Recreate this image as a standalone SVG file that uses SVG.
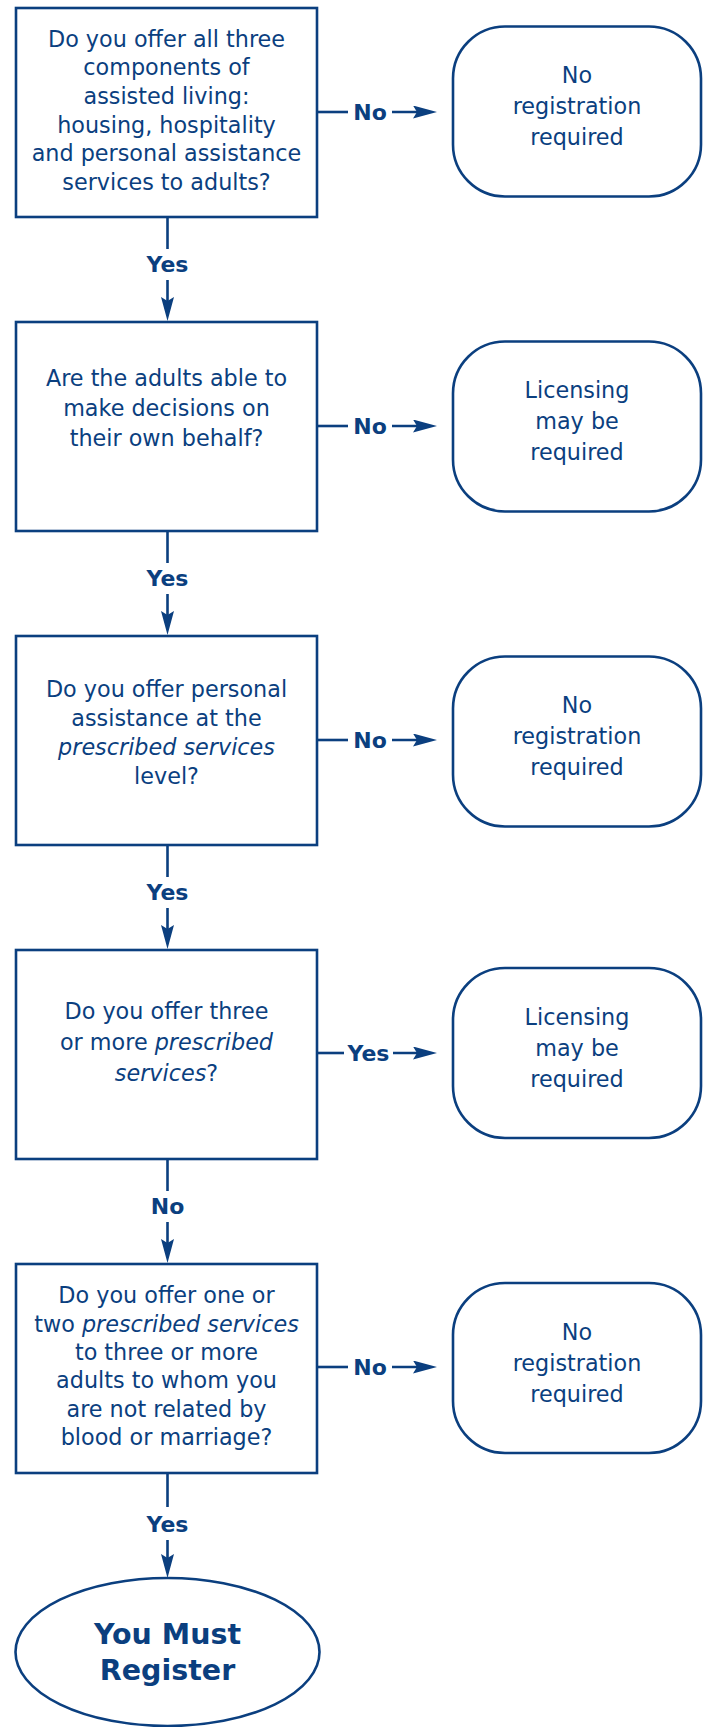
<svg xmlns="http://www.w3.org/2000/svg" width="705" height="1727" viewBox="0 0 705 1727">
<defs>
<style>
.box{fill:#fff;stroke:#0b3f7f;stroke-width:2.6}
.t{font-family:"DejaVu Sans","Open Sans","Liberation Sans",sans-serif;font-size:22.3px;fill:#0b3f7f;text-anchor:middle}
.lbl{font-family:"DejaVu Sans","Open Sans","Liberation Sans",sans-serif;font-size:22px;font-weight:bold;fill:#0b3f7f;text-anchor:middle}
.big{font-family:"DejaVu Sans","Open Sans","Liberation Sans",sans-serif;font-size:28.5px;font-weight:bold;fill:#0b3f7f;text-anchor:middle}
.ln{stroke:#0b3f7f;stroke-width:2.6;fill:none}
.it{font-style:italic}
</style>
<marker id="ah" viewBox="0 0 24 13" refX="14" refY="6.5" markerWidth="24" markerHeight="13" markerUnits="userSpaceOnUse" orient="auto">
<path d="M0,0 L24,6.5 L0,13 L4,6.5 z" fill="#0b3f7f"/>
</marker>
</defs>
<rect width="705" height="1727" fill="#fff"/>

<g id="connectors">
<line class="ln" x1="317" y1="112" x2="348" y2="112"/>
<line class="ln" x1="392" y1="112" x2="427" y2="112" marker-end="url(#ah)"/>
<text class="lbl" x="370" y="120">No</text>

<line class="ln" x1="317" y1="426" x2="348" y2="426"/>
<line class="ln" x1="392" y1="426" x2="427" y2="426" marker-end="url(#ah)"/>
<text class="lbl" x="370" y="434">No</text>

<line class="ln" x1="317" y1="740" x2="348" y2="740"/>
<line class="ln" x1="392" y1="740" x2="427" y2="740" marker-end="url(#ah)"/>
<text class="lbl" x="370" y="748">No</text>

<line class="ln" x1="317" y1="1053" x2="344" y2="1053"/>
<line class="ln" x1="393" y1="1053" x2="427" y2="1053" marker-end="url(#ah)"/>
<text class="lbl" x="368.5" y="1061">Yes</text>

<line class="ln" x1="317" y1="1367" x2="348" y2="1367"/>
<line class="ln" x1="392" y1="1367" x2="427" y2="1367" marker-end="url(#ah)"/>
<text class="lbl" x="370" y="1375">No</text>

<line class="ln" x1="167.5" y1="217" x2="167.5" y2="249"/>
<line class="ln" x1="167.5" y1="280" x2="167.5" y2="311" marker-end="url(#ah)"/>
<text class="lbl" x="167.5" y="272">Yes</text>

<line class="ln" x1="167.5" y1="531" x2="167.5" y2="563"/>
<line class="ln" x1="167.5" y1="594" x2="167.5" y2="625" marker-end="url(#ah)"/>
<text class="lbl" x="167.5" y="586">Yes</text>

<line class="ln" x1="167.5" y1="845" x2="167.5" y2="877"/>
<line class="ln" x1="167.5" y1="908" x2="167.5" y2="939" marker-end="url(#ah)"/>
<text class="lbl" x="167.5" y="900">Yes</text>

<line class="ln" x1="167.5" y1="1159" x2="167.5" y2="1191"/>
<line class="ln" x1="167.5" y1="1222" x2="167.5" y2="1253" marker-end="url(#ah)"/>
<text class="lbl" x="167.5" y="1214">No</text>

<line class="ln" x1="167.5" y1="1473" x2="167.5" y2="1507"/>
<line class="ln" x1="167.5" y1="1540" x2="167.5" y2="1568" marker-end="url(#ah)"/>
<text class="lbl" x="167.5" y="1532">Yes</text>
</g>

<g id="q1">
<rect class="box" x="16" y="8" width="301" height="209"/>
<text class="t" x="166.5" y="46.7">Do you offer all three</text>
<text class="t" x="166.5" y="75.3">components of</text>
<text class="t" x="166.5" y="103.9">assisted living:</text>
<text class="t" x="166.5" y="132.5">housing, hospitality</text>
<text class="t" x="166.5" y="161.1">and personal assistance</text>
<text class="t" x="166.5" y="189.7">services to adults?</text>
</g>
<g id="r1">
<rect class="box" x="453" y="26.5" width="248" height="170" rx="52" ry="52"/>
<text class="t" x="577" y="83">No</text>
<text class="t" x="577" y="114">registration</text>
<text class="t" x="577" y="145">required</text>
</g>

<g id="q2">
<rect class="box" x="16" y="322" width="301" height="209"/>
<text class="t" x="166.5" y="386">Are the adults able to</text>
<text class="t" x="166.5" y="416">make decisions on</text>
<text class="t" x="166.5" y="446">their own behalf?</text>
</g>
<g id="r2">
<rect class="box" x="453" y="341.5" width="248" height="170" rx="52" ry="52"/>
<text class="t" x="577" y="398">Licensing</text>
<text class="t" x="577" y="429">may be</text>
<text class="t" x="577" y="460">required</text>
</g>

<g id="q3">
<rect class="box" x="16" y="636" width="301" height="209"/>
<text class="t" x="166.5" y="697">Do you offer personal</text>
<text class="t" x="166.5" y="726">assistance at the</text>
<text class="t it" x="166.5" y="755">prescribed services</text>
<text class="t" x="166.5" y="784">level?</text>
</g>
<g id="r3">
<rect class="box" x="453" y="656.5" width="248" height="170" rx="52" ry="52"/>
<text class="t" x="577" y="713">No</text>
<text class="t" x="577" y="744">registration</text>
<text class="t" x="577" y="775">required</text>
</g>

<g id="q4">
<rect class="box" x="16" y="950" width="301" height="209"/>
<text class="t" x="166.5" y="1019">Do you offer three</text>
<text class="t" x="166.5" y="1050">or more <tspan class="it">prescribed</tspan></text>
<text class="t" x="166.5" y="1081"><tspan class="it">services</tspan>?</text>
</g>
<g id="r4">
<rect class="box" x="453" y="968" width="248" height="170" rx="52" ry="52"/>
<text class="t" x="577" y="1025">Licensing</text>
<text class="t" x="577" y="1056">may be</text>
<text class="t" x="577" y="1087">required</text>
</g>

<g id="q5">
<rect class="box" x="16" y="1264" width="301" height="209"/>
<text class="t" x="166.5" y="1303">Do you offer one or</text>
<text class="t" x="166.5" y="1331.5">two <tspan class="it">prescribed services</tspan></text>
<text class="t" x="166.5" y="1360">to three or more</text>
<text class="t" x="166.5" y="1388">adults to whom you</text>
<text class="t" x="166.5" y="1416.5">are not related by</text>
<text class="t" x="166.5" y="1445">blood or marriage?</text>
</g>
<g id="r5">
<rect class="box" x="453" y="1283" width="248" height="170" rx="52" ry="52"/>
<text class="t" x="577" y="1340">No</text>
<text class="t" x="577" y="1371">registration</text>
<text class="t" x="577" y="1402">required</text>
</g>

<g id="end">
<ellipse class="box" cx="167.5" cy="1652" rx="152" ry="74"/>
<text class="big" x="167.5" y="1644">You Must</text>
<text class="big" x="167.5" y="1680">Register</text>
</g>
</svg>
